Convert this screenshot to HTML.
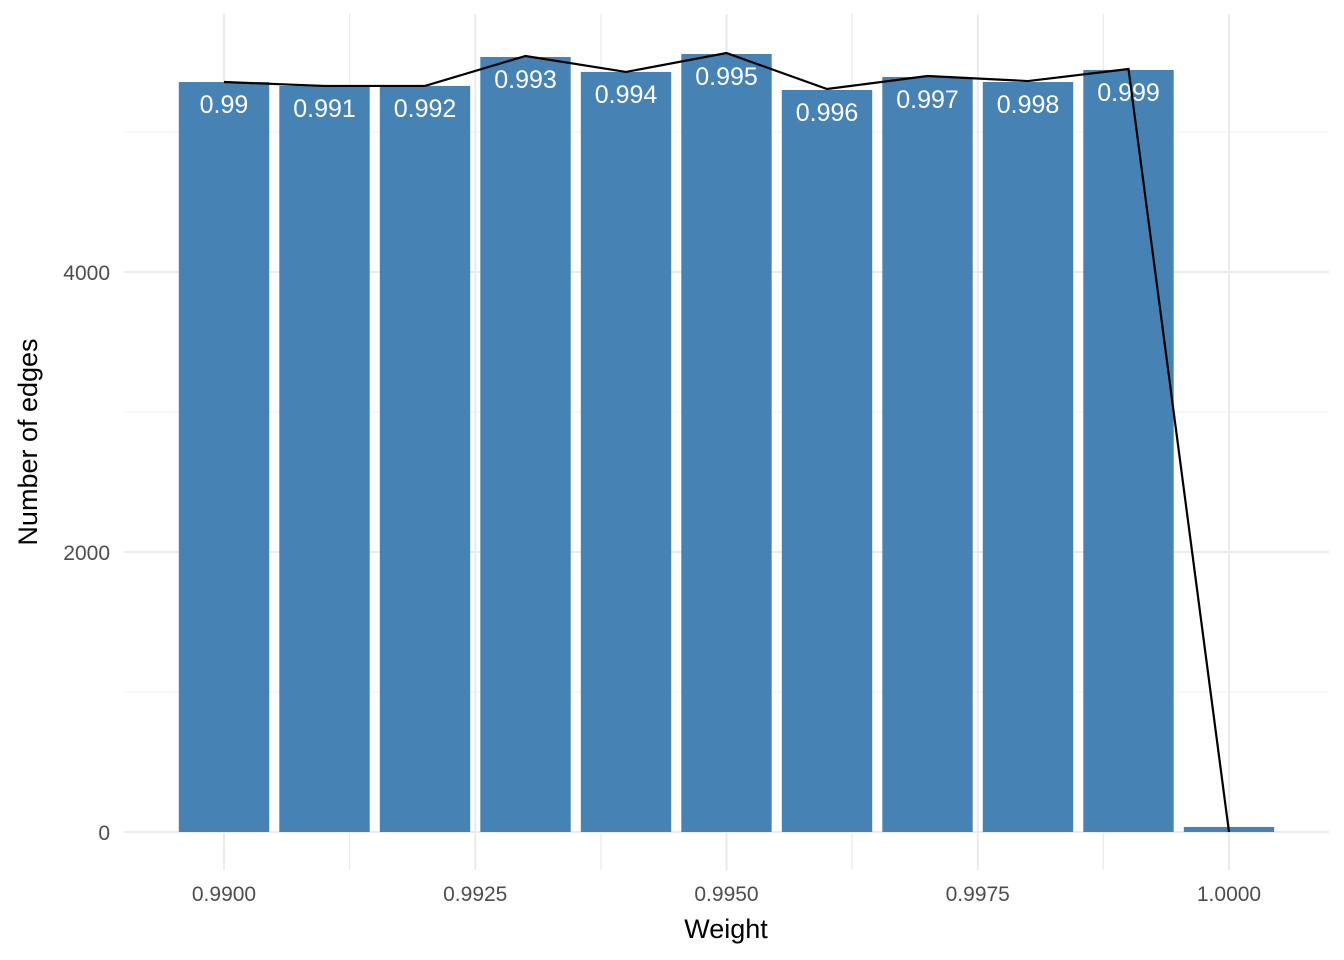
<!DOCTYPE html>
<html><head><meta charset="utf-8"><style>
body{margin:0;background:#fff;}
svg{display:block;font-family:"Liberation Sans","DejaVu Sans",sans-serif;}
</style></head><body>
<svg id="chart" width="1344" height="960">
<g id="grid"></g>
<g id="bars"></g>
<g id="line"></g>
<g id="axes"></g>
<text x="726" y="938" text-anchor="middle" font-size="27" fill="#000">Weight</text>
<text transform="translate(37,442) rotate(-90)" text-anchor="middle" font-size="27" fill="#000">Number of edges</text>
</svg>
<script>
const categories=[0.990,0.991,0.992,0.993,0.994,0.995,0.996,0.997,0.998,0.999,1.000];
const barLabels=["0.99","0.991","0.992","0.993","0.994","0.995","0.996","0.997","0.998","0.999",""];
const counts=[5357,5329,5329,5536,5429,5557,5300,5393,5357,5443,36];
const lineValues=[5357,5329,5329,5543,5429,5564,5307,5400,5364,5450,0];
const xTicks=[0.99,0.9925,0.995,0.9975,1.0];
const xTickLabels=["0.9900","0.9925","0.9950","0.9975","1.0000"];
const yTicks=[0,2000,4000];
const NS="http://www.w3.org/2000/svg";
const x=v=>224+(v-0.99)*100500;
const y=v=>832-v*0.14;
function mk(p,t,a){const e=document.createElementNS(NS,t);for(const k in a)e.setAttribute(k,a[k]);p.appendChild(e);return e;}
const grid=document.getElementById('grid');
for(let v=0;v<=5000;v+=1000){
 const l=mk(grid,'line',{x1:124,x2:1329,y1:y(v),y2:y(v),stroke:v%2000===0?'#ebebeb':'#f3f3f3','stroke-width':v%2000===0?2:1.3});
 
 
}
for(let v=0.99;v<=1.0001;v+=0.00125){
 const l=mk(grid,'line',{x1:x(v),x2:x(v),y1:14,y2:870,stroke:'#ebebeb','stroke-width':Math.round((v-0.99)/0.00125)%2===0?2:1.3});
 
 
}
const bars=document.getElementById('bars');
categories.forEach((c,i)=>{
 const r=mk(bars,'rect',{x:x(c)-45.2,y:y(counts[i]),width:90.4,height:y(0)-y(counts[i]),fill:'#4682b4'});
 
 
 if(barLabels[i]){
  const t=mk(bars,'text',{x:x(c),y:y(counts[i])+31,'text-anchor':'middle','font-size':25,fill:'#fff'});
  t.textContent=barLabels[i];
  
  
 }
});
const pl=mk(document.getElementById('line'),'polyline',{points:categories.map((c,i)=>x(c)+','+y(lineValues[i])).join(' '),fill:'none',stroke:'#000','stroke-width':2.2});


const axes=document.getElementById('axes');
xTicks.forEach((v,i)=>{
 const t=mk(axes,'text',{x:x(v),y:901,'text-anchor':'middle','font-size':21,fill:'#4d4d4d'});
 t.textContent=xTickLabels[i];
 
 
});
yTicks.forEach(v=>{
 const t=mk(axes,'text',{x:110,y:y(v)+8,'text-anchor':'end','font-size':21,fill:'#4d4d4d'});
 t.textContent=v;
 
 
});
</script>
</body></html>
